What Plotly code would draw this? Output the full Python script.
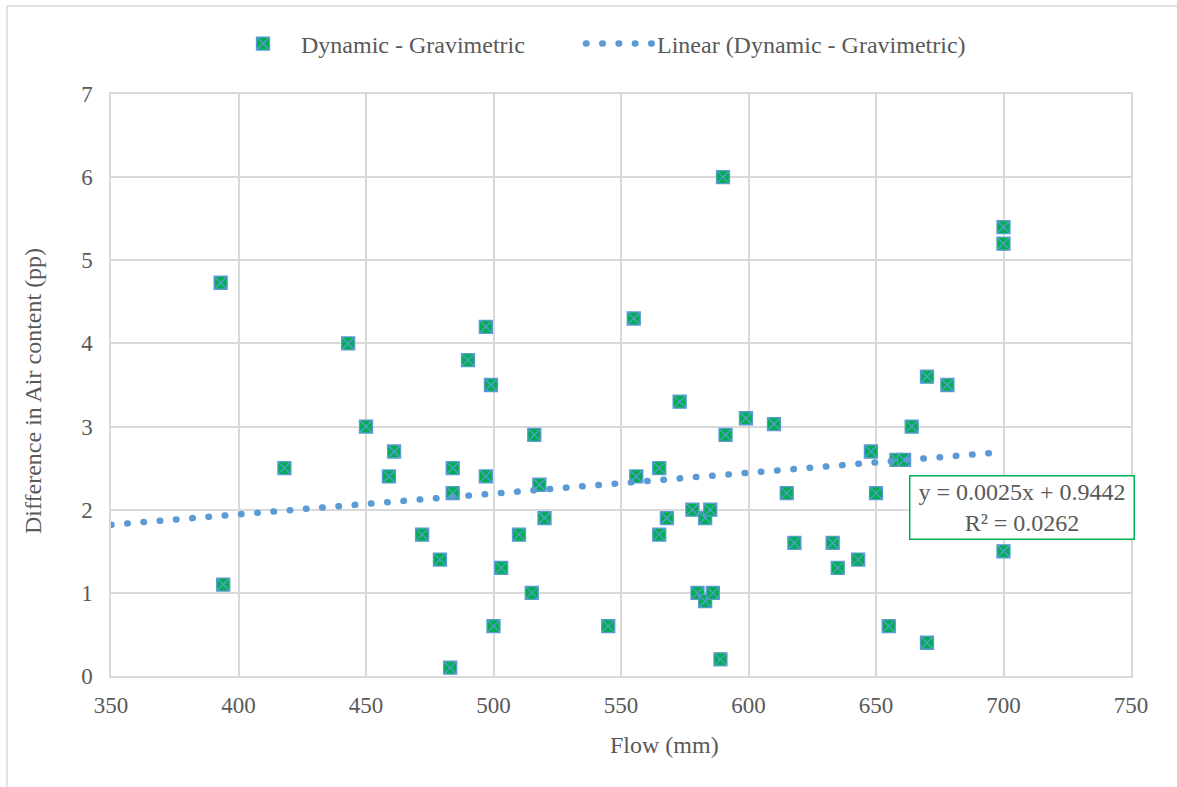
import numpy as np
import plotly.graph_objects as go

# ---- data ----
flow_mm = [393, 394, 418, 443, 450, 459, 461, 472, 479, 483,
           484, 484, 490, 497, 497, 499, 500, 503, 510, 515,
           516, 518, 520, 545, 555, 556, 565, 565, 568, 573,
           578, 580, 583, 583, 585, 586, 589, 590, 591, 599,
           610, 615, 618, 633, 635, 643, 648, 650, 655, 658,
           661, 664, 670, 670, 678, 700, 700, 700]
air_diff_pp = [4.73, 1.1, 2.5, 4.0, 3.0, 2.4, 2.7, 1.7, 1.4, 0.1,
               2.5, 2.2, 3.8, 4.2, 2.4, 3.5, 0.6, 1.3, 1.7, 1.0,
               2.9, 2.3, 1.9, 0.6, 4.3, 2.4, 2.5, 1.7, 1.9, 3.3,
               2.0, 1.0, 1.9, 0.9, 2.0, 1.0, 0.2, 6.0, 2.9, 3.1,
               3.03, 2.2, 1.6, 1.6, 1.3, 1.4, 2.7, 2.2, 0.6, 2.6,
               2.6, 3.0, 3.6, 0.4, 3.5, 5.4, 5.2, 1.5]

trend_slope = 0.0025
trend_intercept = 0.9442
trend_r2 = 0.0262
trend_x_range = [350, 697]

series_name = "Dynamic - Gravimetric"
trend_name = "Linear (Dynamic - Gravimetric)"
x_title = "Flow (mm)"
y_title = "Difference in Air content (pp)"

# ---- styling ----
FONT = "Liberation Serif, Times New Roman, serif"
TXT = "#595959"
GRID = "#D9D9D9"
GREEN = "#00B050"
BLUE = "#5B9BD5"
FS = 24

tx = np.array(trend_x_range, dtype=float)
ty = trend_slope * tx + trend_intercept

fig = go.Figure()
fig.add_trace(go.Scatter(
    x=flow_mm, y=air_diff_pp, mode="markers", name=series_name,
    marker=dict(symbol="square-x", size=13, color=GREEN,
                line=dict(color=BLUE, width=1.3)),
    legend="legend",
))
fig.add_trace(go.Scatter(
    x=tx, y=ty, mode="lines", name=trend_name,
    line=dict(color=BLUE, width=6.5, dash="0.5px,15.8px"),
    legend="legend2",
))

# trendline equation box
fig.add_annotation(
    x=707.3, y=2.03, xref="x", yref="y",
    text=f"y = {trend_slope}x + {trend_intercept}<br>R² = {trend_r2}",
    showarrow=False, xanchor="center", yanchor="middle",
    font=dict(family=FONT, size=FS, color=TXT),
    bgcolor="white", bordercolor=GREEN, borderwidth=1.5,
    width=219, height=58, borderpad=2, align="center",
)

# axis titles (placed where the reference has them)
fig.add_annotation(
    x=(664 - 111) / 1020, y=(676 - 745) / 582, xref="paper", yref="paper",
    text=x_title, showarrow=False, xanchor="center", yanchor="middle",
    font=dict(family=FONT, size=FS, color=TXT),
)
fig.add_annotation(
    x=(33 - 111) / 1020, y=(676 - 391) / 582, xref="paper", yref="paper",
    text=y_title, showarrow=False, xanchor="center", yanchor="middle",
    textangle=-90, font=dict(family=FONT, size=FS, color=TXT),
)

# outer chart border
fig.add_shape(type="rect", xref="paper", yref="paper",
              x0=-0.102, x1=1.06, y0=-0.25, y1=1.151,
              line=dict(color=GRID, width=1.5), layer="below")

axis_common = dict(
    showgrid=True, gridcolor=GRID, gridwidth=1.5,
    showline=True, linecolor=GRID, linewidth=1.5, mirror=True,
    zeroline=False, ticks="",
    tickfont=dict(family=FONT, size=FS - 1, color=TXT),
)

legend_common = dict(orientation="h", xanchor="left", y=1.086, yanchor="middle",
                     itemwidth=66, font=dict(family=FONT, size=FS, color=TXT),
                     bgcolor="rgba(0,0,0,0)")

fig.update_layout(
    width=1177, height=787,
    margin=dict(l=111, r=46, t=94, b=111),
    paper_bgcolor="white", plot_bgcolor="white",
    font=dict(family=FONT, color=TXT),
    showlegend=True,
    legend=dict(x=(225 - 111) / 1020, **legend_common),
    legend2=dict(x=(581 - 111) / 1020, **legend_common),
    xaxis=dict(range=[350, 750], dtick=50, tick0=350,
               ticklabelstandoff=8, **axis_common),
    yaxis=dict(range=[0, 7], dtick=1, tick0=0,
               ticklabelstandoff=12, **axis_common),
)

post = """
var gd = document.getElementById('{plot_id}');
function rc(){ gd.querySelectorAll('path.js-line').forEach(function(p){ p.style.strokeLinecap='round'; }); }
rc();
if (gd.on) { gd.on('plotly_afterplot', rc); }
setTimeout(rc, 50); setTimeout(rc, 300);
"""
fig.write_html("out.html", post_script=post)
